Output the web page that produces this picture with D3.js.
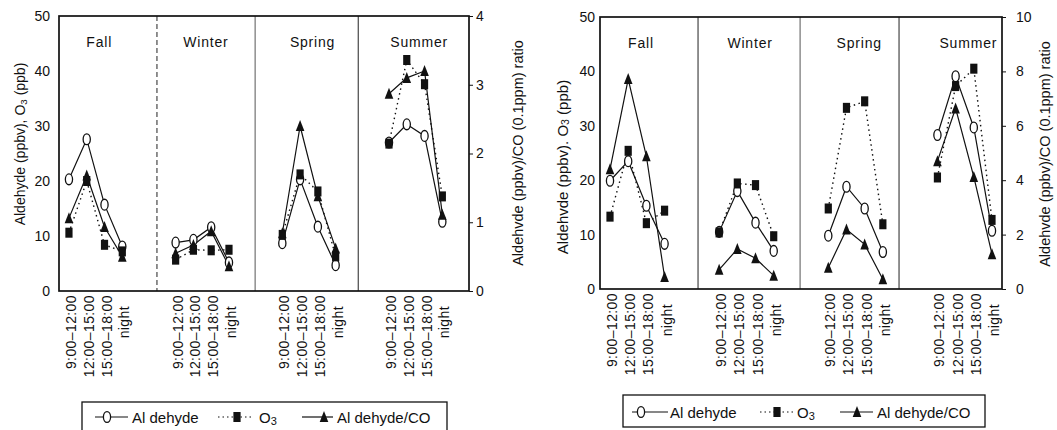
<!DOCTYPE html>
<html>
<head>
<meta charset="utf-8">
<script src="https://cdn.jsdelivr.net/npm/d3@7"></script>
<style>
  body { margin: 0; background: #fff; }
  svg text { font-family: "Liberation Sans", Arial, Helvetica, sans-serif; fill: #111; }
</style>
</head>
<body>
<svg id="chart" width="1057" height="430"></svg>
<script>
const seasons = ["Fall", "Winter", "Spring", "Summer"];
const periods = ["9:00–12:00", "12:00–15:00", "15:00–18:00", "night"];
const leftTicks = [0, 10, 20, 30, 40, 50];

// left figure, one row per season
const aldehydeA = [[20.3, 27.6, 15.7, 8.1], [8.8, 9.3, 11.6, 5.2], [8.7, 20.3, 11.7, 4.7], [27.0, 30.3, 28.2, 12.6]];
const ozoneA    = [[10.6, 20.0, 8.4, 7.2], [5.7, 7.5, 7.4, 7.5], [10.2, 21.2, 18.1, 6.3], [26.8, 42.0, 37.6, 17.2]];
const ratioA    = [[1.06, 1.68, 0.93, 0.50], [0.55, 0.67, 0.87, 0.36], [0.84, 2.40, 1.38, 0.62], [2.87, 3.10, 3.20, 1.11]];
const ratioTicksA = [0, 1, 2, 3, 4];

// right figure
const aldehydeB = [[19.9, 23.5, 15.3, 8.3], [10.5, 18.0, 12.2, 7.0], [9.8, 18.8, 14.8, 6.8], [28.3, 39.1, 29.7, 10.7]];
const ozoneB    = [[13.3, 25.4, 12.1, 14.4], [10.4, 19.4, 19.1, 9.7], [14.8, 33.3, 34.5, 11.9], [20.5, 37.3, 40.5, 12.7]];
const ratioB    = [[4.4, 7.72, 4.88, 0.44], [0.71, 1.47, 1.13, 0.49], [0.78, 2.19, 1.64, 0.36], [4.7, 6.64, 4.12, 1.28]];
const ratioTicksB = [0, 2, 4, 6, 8, 10];

const svg = d3.select("#chart");
const ink = "#111";

function marker(g, kind, cx, cy) {
  if (kind === "circle") {
    g.append("ellipse").attr("cx", cx).attr("cy", cy).attr("rx", 3.6).attr("ry", 5.4)
      .attr("fill", "#fff").attr("stroke", ink).attr("stroke-width", 1.3);
  } else if (kind === "square") {
    g.append("rect").attr("x", cx - 3.6).attr("y", cy - 5).attr("width", 7.2).attr("height", 10).attr("fill", ink);
  } else {
    g.append("path").attr("d", `M${cx},${cy - 6}L${cx + 4.3},${cy + 5}L${cx - 4.3},${cy + 5}Z`).attr("fill", ink);
  }
}

function rotTitle(g, cx, cy, size, parts) {
  const t = g.append("text")
    .attr("transform", `translate(${cx},${cy}) rotate(-90)`)
    .attr("text-anchor", "middle").attr("dominant-baseline", "central")
    .attr("font-size", size);
  parts.forEach(p => {
    const s = t.append("tspan").text(p.t);
    if (p.sub) s.attr("font-size", size * 0.7).attr("dy", 3);
    if (p.up) s.attr("dy", -3);
  });
}

function drawPanel(cfg) {
  const g = svg.append("g");
  const x = d3.scaleLinear().domain(cfg.slots).range([cfg.left, cfg.right]);
  const y = d3.scaleLinear().domain([0, 50]).range([cfg.bottom, cfg.top]);
  const yr = d3.scaleLinear().domain([0, cfg.ratioMax]).range([cfg.bottom, cfg.top]);
  const slot = (s, i) => s * 6 + i;

  // season separators
  cfg.dividers.forEach((d, k) => {
    g.append("line")
      .attr("x1", x(d)).attr("x2", x(d)).attr("y1", cfg.top).attr("y2", cfg.bottom)
      .attr("stroke", k === 1 ? "#555" : "#222").attr("stroke-width", 1)
      .attr("stroke-dasharray", cfg.dash[k]);
  });

  // frame
  g.append("rect")
    .attr("x", cfg.left).attr("y", cfg.top)
    .attr("width", cfg.right - cfg.left).attr("height", cfg.bottom - cfg.top)
    .attr("fill", "none").attr("stroke", ink).attr("stroke-width", 1.7);

  const ax = g.append("g").attr("transform", `translate(${cfg.left},0)`)
    .call(d3.axisLeft(y).tickValues(leftTicks).tickSize(0).tickPadding(cfg.padL));
  const ar = g.append("g").attr("transform", `translate(${cfg.right},0)`)
    .call(d3.axisRight(yr).tickValues(cfg.ratioTicks).tickFormat(d3.format("d"))
      .tickSize(4).tickSizeOuter(0).tickPadding(cfg.padR));
  [ax, ar].forEach(a => {
    a.select(".domain").remove();
    a.attr("font-family", null).attr("font-size", 14);
    a.selectAll("line").attr("stroke", ink);
  });

  // season names
  seasons.forEach((s, k) => {
    g.append("text").attr("x", x(slot(k, 1.7))).attr("y", cfg.top + 31)
      .attr("text-anchor", "middle").attr("font-size", 14).attr("letter-spacing", 0.8).text(s);
  });

  // period labels
  seasons.forEach((s, k) => {
    periods.forEach((p, i) => {
      g.append("text")
        .attr("transform", `translate(${x(slot(k, i)) + 2},${cfg.bottom + 4 + (i === 3 ? 11 : 0)}) rotate(-90)`)
        .attr("text-anchor", "end").attr("dominant-baseline", "central")
        .attr("font-size", 14).attr("letter-spacing", 0.4).text(p);
    });
  });

  const series = [
    { data: cfg.aldehyde, sc: y, kind: "circle", dash: null, w: 1.2 },
    { data: cfg.ratio, sc: yr, kind: "triangle", dash: null, w: 1.2 },
    { data: cfg.ozone, sc: y, kind: "square", dash: "1.5,3.5", w: 1.4 }
  ];
  series.forEach(se => {
    se.data.forEach((vals, k) => {
      const line = d3.line().x((v, i) => x(slot(k, i))).y(v => se.sc(v));
      g.append("path").attr("d", line(vals)).attr("fill", "none")
        .attr("stroke", ink).attr("stroke-width", se.w).attr("stroke-dasharray", se.dash);
    });
  });
  series.forEach(se => {
    se.data.forEach((vals, k) => {
      vals.forEach((v, i) => marker(g, se.kind, x(slot(k, i)), se.sc(v)));
    });
  });

  rotTitle(g, cfg.titleL[0], cfg.titleL[1], cfg.titleL[2],
    [{ t: cfg.leftText }, { t: "3", sub: true }, { t: " (ppb)", up: true }]);
  rotTitle(g, cfg.titleR[0], cfg.titleR[1], cfg.titleR[2], [{ t: "Aldehvde (ppbv)/CO (0.1ppm) ratio" }]);

  // legend
  const L = cfg.legend;
  g.append("rect").attr("x", L.x).attr("y", L.y).attr("width", L.w).attr("height", L.h)
    .attr("fill", "none").attr("stroke", ink).attr("stroke-width", 1.3);
  const ly = L.y + L.mid;
  const items = [
    { kind: "circle", dash: null, label: "Al dehyde" },
    { kind: "square", dash: "1.5,3", label: "O" },
    { kind: "triangle", dash: null, label: "Al dehyde/CO" }
  ];
  items.forEach((it, k) => {
    const p = L.items[k];
    g.append("line").attr("x1", L.x + p[0]).attr("x2", L.x + p[1]).attr("y1", ly).attr("y2", ly)
      .attr("stroke", ink).attr("stroke-width", 1.2).attr("stroke-dasharray", it.dash);
    marker(g, it.kind, L.x + p[2], ly);
    const t = g.append("text").attr("x", L.x + p[3]).attr("y", ly).attr("dominant-baseline", "central")
      .attr("font-size", 15).text(it.label);
    if (it.kind === "square") t.append("tspan").attr("font-size", 11).attr("dy", 4).text("3");
  });
}

drawPanel({
  left: 59, right: 469, top: 16, bottom: 291,
  slots: [-0.56, 22.5], ratioMax: 4, ratioTicks: ratioTicksA,
  dividers: [4.95, 10.47, 16.27], dash: ["5,3", null, null],
  padL: 9, padR: 3,
  aldehyde: aldehydeA, ozone: ozoneA, ratio: ratioA,
  leftText: "Aldehyde (ppbv), O", titleL: [20, 144, 14], titleR: [518, 153, 14.5],
  legend: { x: 82, y: 402, w: 365, h: 40, mid: 15, items: [[13, 46, 25, 50], [136, 170, 155, 177], [220, 251, 242, 255]] }
});

drawPanel({
  left: 600, right: 1002, top: 17, bottom: 289,
  slots: [-0.55, 21.55], ratioMax: 10, ratioTicks: ratioTicksB,
  dividers: [4.84, 10.45, 15.89], dash: [null, null, null],
  padL: 5, padR: 10,
  aldehyde: aldehydeB, ozone: ozoneB, ratio: ratioB,
  leftText: "Aldehvde (ppbv). O", titleL: [562, 167, 15], titleR: [1045, 154, 14.5],
  legend: { x: 623, y: 395, w: 362, h: 32, mid: 17, items: [[9, 45, 18, 47], [137, 170, 154, 174], [217, 250, 234, 254]] }
});
</script>
</body>
</html>
